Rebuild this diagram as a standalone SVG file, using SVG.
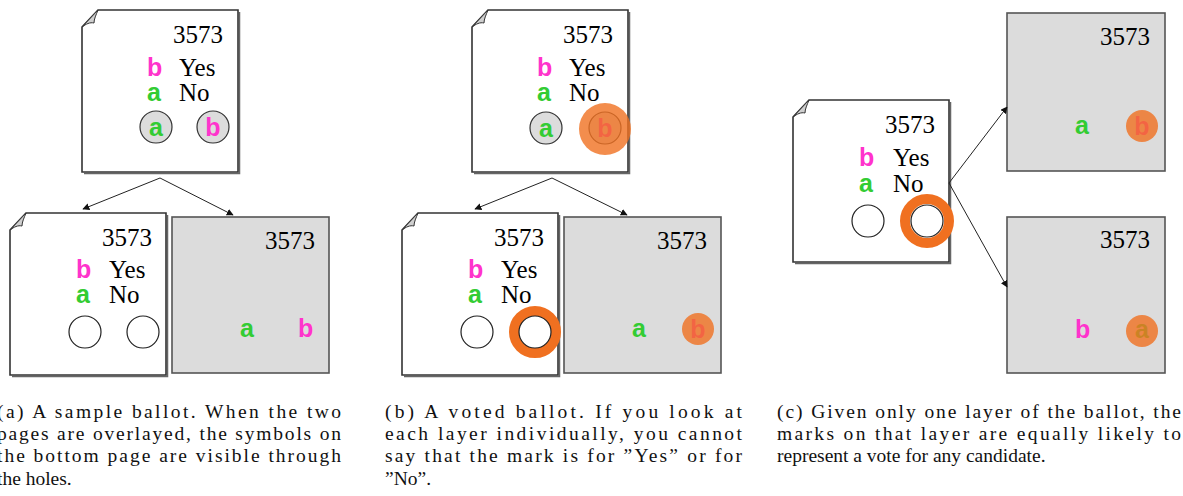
<svg xmlns="http://www.w3.org/2000/svg" xmlns:xlink="http://www.w3.org/1999/xlink" width="1183" height="496" viewBox="0 0 1183 496">
<style>
.page{fill:#fff;stroke:#333;stroke-width:1.6}
.shadow{fill:none;stroke:#666;stroke-width:1.5}
.gpage{fill:#dcdcdc;stroke:#555;stroke-width:1.6}
.curl{fill:#cfcfcf;stroke:#333;stroke-width:1}
.num{font-family:'Liberation Serif',serif;font-size:25px;fill:#000}
.sym{font-family:'Liberation Sans',sans-serif;font-weight:bold;font-size:25px}
.g{fill:#33cc33}
.m{fill:#ff33cc}
.hole{fill:#fff;stroke:#222;stroke-width:1.2}
.ghole{fill:#dcdcdc;stroke:#333;stroke-width:1.2}
.ring{fill:none;stroke:#f07020;stroke-width:10}
.dot{fill:#f07020;fill-opacity:0.8}
.conn{stroke:#222;stroke-width:1;fill:none;marker-end:url(#ah)}
.cap{font-family:'Liberation Serif',serif;font-size:19.5px;fill:#111}
</style>
<defs>
<marker id="ah" viewBox="0 0 10 10" refX="9" refY="5" markerWidth="7" markerHeight="7" orient="auto" markerUnits="userSpaceOnUse">
<path d="M0,0 L10,5 L0,10 Z" fill="#111"/>
</marker>
<path id="fpage" d="M16,0 H156 V162 H0 V17 Z"/>
<path id="fshadow" d="M157.5,2 V163.5 H2"/>
<path id="fcurl" d="M0,17 L16,0 C14,5 12,9 12,13 C8,12 4,14 0,17 Z"/>
</defs>

<!-- Panel (a) -->
<g id="a-top" transform="translate(82,10)">
<use xlink:href="#fshadow" class="shadow"/>
<use xlink:href="#fpage" class="page"/>
<use xlink:href="#fcurl" class="curl"/>
<text class="num" x="91" y="33">3573</text>
<text class="sym m" x="65" y="66">b</text><text class="num" x="97" y="66">Yes</text>
<text class="sym g" x="65" y="91">a</text><text class="num" x="97" y="91">No</text>
<circle class="ghole" cx="74" cy="117" r="16"/><circle class="ghole" cx="131" cy="117" r="16"/>
<text class="sym g" x="74" y="126" text-anchor="middle">a</text>
<text class="sym m" x="131" y="126" text-anchor="middle">b</text>
</g>
<g id="a-left" transform="translate(10,213)">
<use xlink:href="#fshadow" class="shadow"/>
<use xlink:href="#fpage" class="page"/>
<use xlink:href="#fcurl" class="curl"/>
<text class="num" x="92" y="33">3573</text>
<text class="sym m" x="66" y="65">b</text><text class="num" x="99" y="65">Yes</text>
<text class="sym g" x="66" y="90">a</text><text class="num" x="99" y="90">No</text>
<circle class="hole" cx="75" cy="119" r="16"/><circle class="hole" cx="133" cy="119" r="16"/>
</g>
<g id="a-right" transform="translate(172,217)">
<rect class="gpage" width="157" height="156"/>
<text class="num" x="93" y="32">3573</text>
<text class="sym g" x="68" y="120">a</text>
<text class="sym m" x="126" y="120">b</text>
</g>

<!-- Panel (b) -->
<g id="b-top" transform="translate(472,10)">
<use xlink:href="#fshadow" class="shadow"/>
<use xlink:href="#fpage" class="page"/>
<use xlink:href="#fcurl" class="curl"/>
<text class="num" x="91" y="33">3573</text>
<text class="sym m" x="65" y="66">b</text><text class="num" x="97" y="66">Yes</text>
<text class="sym g" x="65" y="91">a</text><text class="num" x="97" y="91">No</text>
<circle class="ghole" cx="74" cy="118" r="16"/><circle class="ghole" cx="133" cy="118" r="16"/>
<text class="sym g" x="74" y="127" text-anchor="middle">a</text>
<text class="sym m" x="133" y="127" text-anchor="middle">b</text>
<circle class="dot" cx="133" cy="119" r="26"/>
</g>
<g id="b-left" transform="translate(402,213)">
<use xlink:href="#fshadow" class="shadow"/>
<use xlink:href="#fpage" class="page"/>
<use xlink:href="#fcurl" class="curl"/>
<text class="num" x="92" y="33">3573</text>
<text class="sym m" x="66" y="65">b</text><text class="num" x="99" y="65">Yes</text>
<text class="sym g" x="66" y="90">a</text><text class="num" x="99" y="90">No</text>
<circle class="hole" cx="75" cy="119" r="16"/>
<circle class="ring" cx="133" cy="119" r="21"/>
<circle class="hole" cx="133" cy="119" r="16"/>
</g>
<g id="b-right" transform="translate(564,217)">
<rect class="gpage" width="157" height="156"/>
<text class="num" x="93" y="32">3573</text>
<text class="sym g" x="68" y="120">a</text>
<text class="sym m" x="134" y="121" text-anchor="middle">b</text>
<circle class="dot" cx="134" cy="112" r="16"/>
</g>

<!-- Panel (c) -->
<g id="c-ballot" transform="translate(793,100)">
<use xlink:href="#fshadow" class="shadow"/>
<use xlink:href="#fpage" class="page"/>
<use xlink:href="#fcurl" class="curl"/>
<text class="num" x="92" y="33">3573</text>
<text class="sym m" x="66" y="66">b</text><text class="num" x="100" y="66">Yes</text>
<text class="sym g" x="66" y="92">a</text><text class="num" x="100" y="92">No</text>
<circle class="hole" cx="75" cy="121" r="16"/>
<circle class="ring" cx="134" cy="121" r="22"/>
<circle class="hole" cx="134" cy="121" r="16"/>
</g>
<g id="c-top" transform="translate(1007,13)">
<rect class="gpage" width="158" height="158"/>
<text class="num" x="93" y="32">3573</text>
<text class="sym g" x="68" y="121">a</text>
<text class="sym m" x="135" y="122" text-anchor="middle">b</text>
<circle class="dot" cx="135" cy="113" r="16"/>
</g>
<g id="c-bottom" transform="translate(1007,217)">
<rect class="gpage" width="158" height="156"/>
<text class="num" x="93" y="31">3573</text>
<text class="sym m" x="68" y="121">b</text>
<text class="sym g" x="135" y="121" text-anchor="middle">a</text>
<circle class="dot" cx="135" cy="114" r="16"/>
</g>

<g id="connectors">
<path class="conn" d="M160,178 L83,209"/>
<path class="conn" d="M160,178 L233,215"/>
<path class="conn" d="M552,178 L475,209"/>
<path class="conn" d="M552,178 L627,215"/>
<path class="conn" d="M949,183 L1007,107"/>
<path class="conn" d="M949,183 L1007,287"/>
</g>

<g id="captions">
<text class="cap" x="-3" y="418" textLength="344" lengthAdjust="spacing">(a) A sample ballot.  When the two</text>
<text class="cap" x="-3" y="440" textLength="344" lengthAdjust="spacing">pages are overlayed, the symbols on</text>
<text class="cap" x="-3" y="462" textLength="344" lengthAdjust="spacing">the bottom page are visible through</text>
<text class="cap" x="-3" y="485">the holes.</text>
<text class="cap" x="385" y="418" textLength="357" lengthAdjust="spacing">(b) A voted ballot.  If you look at</text>
<text class="cap" x="385" y="440" textLength="357" lengthAdjust="spacing">each layer individually, you cannot</text>
<text class="cap" x="385" y="462" textLength="357" lengthAdjust="spacing">say that the mark is for ”Yes” or for</text>
<text class="cap" x="385" y="485">”No”.</text>
<text class="cap" x="777" y="418" textLength="404" lengthAdjust="spacing">(c) Given only one layer of the ballot, the</text>
<text class="cap" x="777" y="440" textLength="404" lengthAdjust="spacing">marks on that layer are equally likely to</text>
<text class="cap" x="777" y="462">represent a vote for any candidate.</text>
</g>
</svg>
